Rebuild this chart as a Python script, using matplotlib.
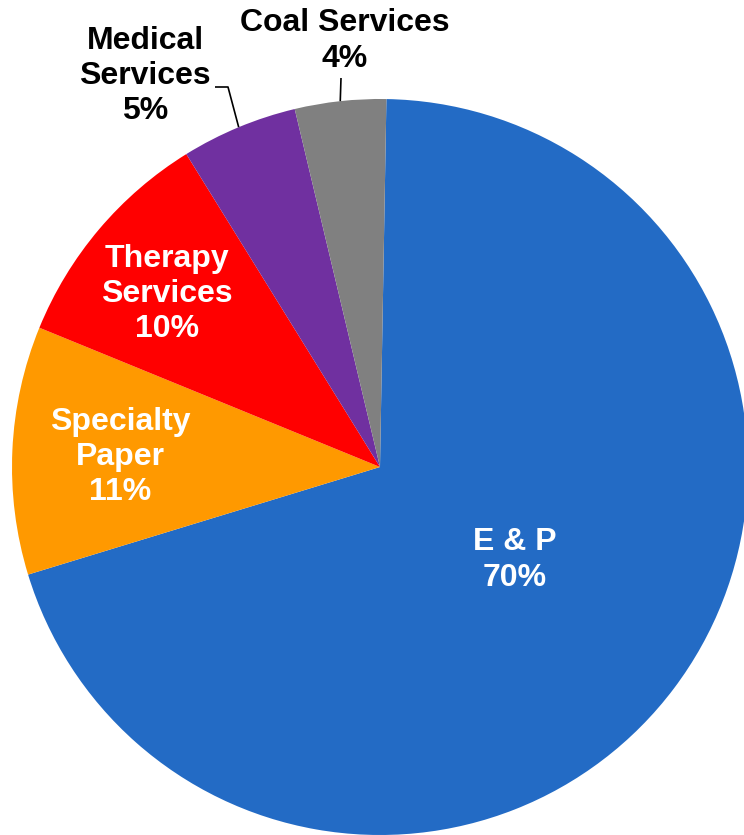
import numpy as np
import matplotlib
matplotlib.use("Agg")
import matplotlib.pyplot as plt

categories = ["E & P", "Specialty\nPaper", "Therapy\nServices", "Medical\nServices", "Coal Services"]
values = [70.0, 10.9, 10.0, 5.1, 4.0]
colors = ["#236BC5", "#FF9900", "#FF0000", "#7030A0", "#808080"]
text_colors = ["white", "white", "white", "black", "black"]

W, H = 744, 835
fig = plt.figure(figsize=(W / 100, H / 100), dpi=100)
ax = fig.add_axes([0, 0, 1, 1])

cx, cy, R = 380, 467, 368  # pixel layout of the pie


def d(px, py):
    return ((px - cx) / R, (cy - py) / R)


wedges, _ = ax.pie(values, colors=colors, startangle=89, counterclock=False,
                   radius=1, center=(0, 0), wedgeprops=dict(linewidth=0))
ax.set_xlim(-cx / R, (W - cx) / R)
ax.set_ylim(-(H - cy) / R, cy / R)
ax.set_aspect("auto")
ax.axis("off")

total = sum(values)
pcts = [f"{round(v / total * 100)}%" for v in values]

# label centres in pixel layout
label_px = [(515, 560), (120, 457), (167, 294), (145, 76), (345, 41)]
font = dict(family=["Liberation Sans", "DejaVu Sans"], fontweight="bold",
            fontsize=23, ha="center", va="center", linespacing=1.23)
for cat, p, (px, py), tc in zip(categories, pcts, label_px, text_colors):
    x, y = d(px, py)
    ax.text(x, y, f"{cat}\n{p}", color=tc, **font)

# leader lines
for w, pts in [(wedges[3], [(228, 87), (215, 87)]), (wedges[4], [(341, 78)])]:
    ang = np.deg2rad((w.theta1 + w.theta2) / 2)
    x0, y0 = np.cos(ang), np.sin(ang)
    xs = [x0] + [d(*p)[0] for p in pts]
    ys = [y0] + [d(*p)[1] for p in pts]
    ax.plot(xs, ys, color="black", lw=1.2, solid_capstyle="butt")

fig.savefig("out.png", dpi=100, facecolor="white")
